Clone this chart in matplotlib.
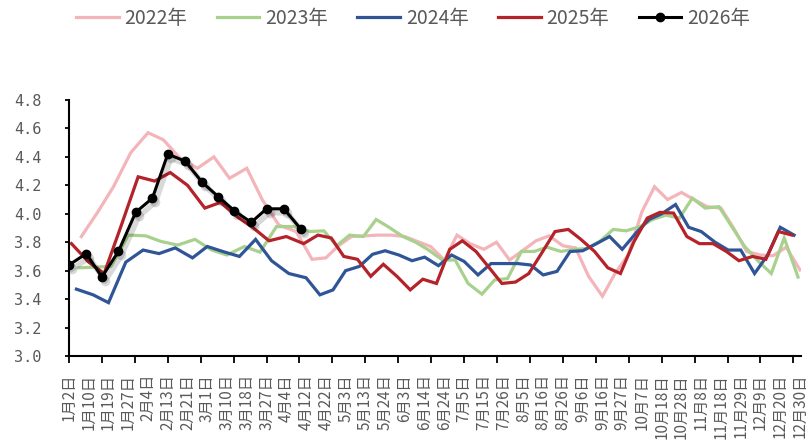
import re
import numpy as np
import pandas as pd
import matplotlib
matplotlib.use('Agg')
import matplotlib.pyplot as plt
from matplotlib.transforms import offset_copy

plt.rcParams['font.family'] = ['Noto Sans CJK SC', 'DejaVu Sans']

# x轴标签
x_labels = ['1月2日', '1月10日', '1月19日', '1月27日', '2月4日', '2月13日', '2月21日',
            '3月1日', '3月10日', '3月18日', '3月27日', '4月4日', '4月12日', '4月22日',
            '5月3日', '5月13日', '5月24日', '6月3日', '6月14日', '6月24日', '7月5日',
            '7月15日', '7月26日', '8月5日', '8月16日', '8月26日', '9月6日', '9月16日',
            '9月27日', '10月7日', '10月18日', '10月28日', '11月8日', '11月18日',
            '11月29日', '12月9日', '12月20日', '12月30日']

# 周度数据（每周五）
start_2022 = '2022-01-07'
v2022 = [3.84, 4.01, 4.19, 4.43, 4.57, 4.52, 4.39, 4.32, 4.40, 4.25, 4.32, 4.10, 3.92,
         3.875, 3.68, 3.69, 3.775, 3.84, 3.845, 3.85, 3.85, 3.84, 3.805, 3.77, 3.675,
         3.85, 3.79, 3.75, 3.80, 3.675, 3.745, 3.81, 3.845, 3.775, 3.76, 3.56, 3.42,
         3.58, 3.71, 4.015, 4.19, 4.10, 4.15, 4.10, 4.05, 4.04, 3.90, 3.735, 3.71,
         3.705, 3.765, 3.605]

start_2023 = '2023-01-06'
v2023 = [3.62, 3.625, 3.63, 3.85, 3.845, 3.805, 3.78, 3.82, 3.745, 3.71, 3.77, 3.73,
         3.91, 3.91, 3.875, 3.88, 3.775, 3.85, 3.84, 3.96, 3.905, 3.84, 3.80, 3.745,
         3.675, 3.675, 3.51, 3.435, 3.535, 3.545, 3.735, 3.735, 3.765, 3.735, 3.75,
         3.755, 3.81, 3.89, 3.88, 3.91, 3.96, 3.99, 3.97, 4.11, 4.04, 4.05, 3.91,
         3.77, 3.665, 3.58, 3.83, 3.555]

start_2024 = '2024-01-05'
v2024 = [3.47, 3.43, 3.375, 3.66, 3.745, 3.72, 3.76, 3.69, 3.77, 3.735, 3.70, 3.82,
         3.67, 3.58, 3.55, 3.43, 3.465, 3.60, 3.63, 3.715, 3.74, 3.71, 3.67, 3.695,
         3.635, 3.71, 3.665, 3.57, 3.65, 3.65, 3.65, 3.64, 3.57, 3.595, 3.735, 3.74,
         3.79, 3.84, 3.75, 3.865, 3.96, 4.00, 4.065, 3.905, 3.875, 3.80, 3.745, 3.745,
         3.58, 3.71, 3.905, 3.85]

start_2025 = '2025-01-03'
v2025 = [3.79, 3.66, 3.58, 3.91, 4.26, 4.23, 4.29, 4.20, 4.04, 4.08, 3.98, 3.90, 3.81,
         3.84, 3.79, 3.85, 3.83, 3.70, 3.68, 3.56, 3.645, 3.56, 3.465, 3.54, 3.51,
         3.75, 3.81, 3.735, 3.62, 3.51, 3.52, 3.58, 3.72, 3.875, 3.89, 3.82, 3.735,
         3.62, 3.58, 3.805, 3.97, 4.01, 4.005, 3.84, 3.79, 3.79, 3.735, 3.67, 3.70,
         3.68, 3.875, 3.85]

start_2026 = '2026-01-02'
v2026 = [3.64, 3.72, 3.555, 3.735, 4.01, 4.11, 4.42, 4.37, 4.22, 4.12, 4.02, 3.94,
         4.035, 4.035, 3.89]

series_names = ['2022年', '2023年', '2024年', '2025年', '2026年']
colors = ['#F4B5BA', '#A9D18E', '#2F5597', '#B4232A', '#000000']

# 标签日期 -> 横轴位置
lab_md = [tuple(int(t) for t in re.findall(r'\d+', s)) for s in x_labels]
lab_doy = [pd.Timestamp(2023, m, d).dayofyear for m, d in lab_md]


def to_pos(start, n):
    dates = pd.date_range(start, periods=n, freq='7D')
    doy = [pd.Timestamp(2023, d.month, d.day).dayofyear for d in dates]
    return np.interp(doy, lab_doy, np.arange(len(x_labels)))


fig = plt.figure(figsize=(8.1, 4.43), dpi=100)
ax = fig.add_axes([69 / 810, 87 / 443, 732 / 810, 256 / 443])

data = [(start_2022, v2022), (start_2023, v2023), (start_2024, v2024),
        (start_2025, v2025)]
for (start, vals), name, c in zip(data, series_names[:4], colors[:4]):
    ax.plot(to_pos(start, len(vals)), vals, color=c, lw=2.3, label=name,
            solid_joinstyle='miter')

# 2026年 阴影
x26 = to_pos(start_2026, len(v2026))
shadow = offset_copy(ax.transData, fig=fig, x=3, y=-4, units='dots')
ax.plot(x26, v2026, color='k', alpha=0.15, lw=4, marker='o', markersize=7,
        markeredgewidth=0, transform=shadow)
ax.plot(x26, v2026, color='k', lw=2.2, marker='o', markersize=6,
        label=series_names[4])

ax.set_ylim(3.0, 4.8)
ax.set_xlim(0, 37.05)
ax.set_yticks(np.arange(3.0, 4.81, 0.2))
ax.set_yticklabels([f'{v:.1f}' for v in np.arange(3.0, 4.81, 0.2)],
                   family='DejaVu Sans Mono', fontsize=11, color='#595959')
ax.tick_params(axis='y', length=3, width=1.3, pad=17)

# 刻度线与标签间隔不同
ax.xaxis.remove_overlapping_locs = False
ax.set_xticks(np.arange(0, 37, 5 / 3), labels=[])
ax.tick_params(axis='x', which='major', length=5, width=1.3)
ax.set_xticks(np.arange(len(x_labels)), labels=x_labels, minor=True)
ax.tick_params(axis='x', which='minor', length=0, pad=13, labelsize=11,
               labelcolor='#595959', labelrotation=90)

for s in ['top', 'right']:
    ax.spines[s].set_visible(False)
for s in ['left', 'bottom']:
    ax.spines[s].set_linewidth(1.5)

fig.legend(loc='center', bbox_to_anchor=(0.51, 1 - 18 / 443), ncol=5, frameon=False,
           fontsize=14, labelcolor='#595959', handlelength=2.2, handletextpad=0.3,
           columnspacing=1.5)

fig.savefig('out.png', dpi=100)
